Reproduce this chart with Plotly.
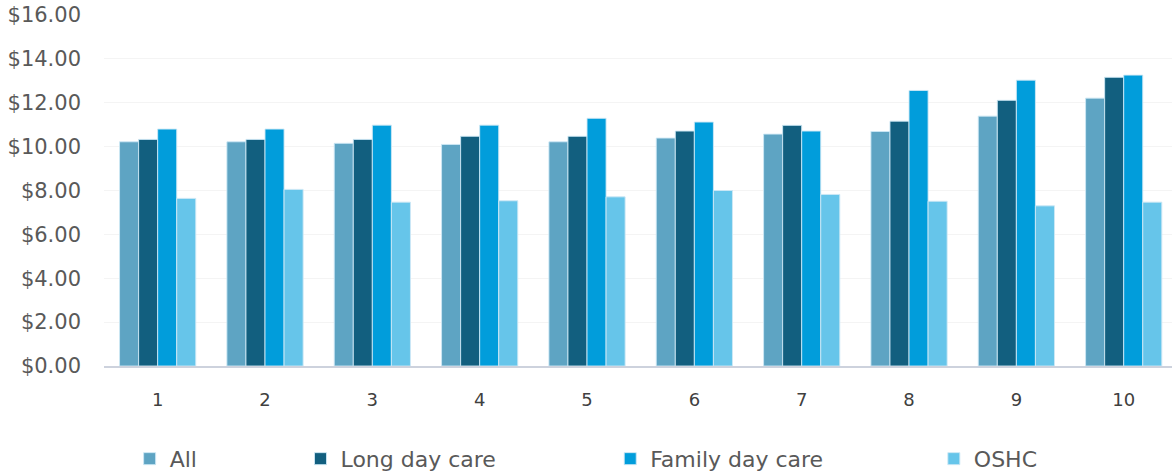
import plotly.graph_objects as go

# Hourly fee by decile, by care type
deciles = ["1", "2", "3", "4", "5", "6", "7", "8", "9", "10"]
all_care = [10.22, 10.22, 10.15, 10.10, 10.22, 10.39, 10.57, 10.69, 11.39, 12.21]
long_day_care = [10.33, 10.33, 10.33, 10.47, 10.47, 10.71, 10.97, 11.16, 12.11, 13.16]
family_day_care = [10.80, 10.80, 10.98, 10.98, 11.29, 11.12, 10.71, 12.56, 13.03, 13.26]
oshc = [7.64, 8.05, 7.47, 7.53, 7.71, 8.00, 7.82, 7.51, 7.30, 7.47]

series_names = ["All", "Long day care", "Family day care", "OSHC"]
series_values = [all_care, long_day_care, family_day_care, oshc]
series_colors = ["#5ea4c3", "#125f7f", "#019ddb", "#66c5ea"]
# horizontal position (paper fraction) of each legend entry
legend_x = [0.024, 0.184, 0.474, 0.777]

FONT = "'DejaVu Sans', sans-serif"
legend_ids = ["legend", "legend2", "legend3", "legend4"]

fig = go.Figure()
for name, values, color, lid in zip(series_names, series_values, series_colors, legend_ids):
    fig.add_trace(go.Bar(
        x=deciles, y=values, name=name, legend=lid,
        marker=dict(color=color, line=dict(color="rgba(205,232,245,0.9)", width=1)),
    ))

legend_layout = {}
for lid, lx in zip(legend_ids, legend_x):
    legend_layout[lid] = dict(
        orientation="h", x=lx, xanchor="left",
        yref="container", y=0.034, yanchor="middle",
        font=dict(size=22, color="#595959", family=FONT),
        bgcolor="rgba(0,0,0,0)", itemwidth=30,
    )

fig.update_layout(
    width=1172, height=475,
    margin=dict(l=104, r=0, t=15, b=109),
    paper_bgcolor="white", plot_bgcolor="white",
    barmode="group", bargap=0.29, bargroupgap=0.0,
    font=dict(family=FONT, color="#595959"),
    showlegend=True,
    **legend_layout,
    xaxis=dict(
        range=[-0.5, 9.45], showgrid=False,
        showline=True, linecolor="#cdd2dd", linewidth=2,
        ticks="", ticklabelstandoff=16,
        tickfont=dict(size=18, color="#404040", family=FONT),
    ),
    yaxis=dict(
        range=[0, 16], dtick=2, tickprefix="$", tickformat=".2f",
        showgrid=True, gridcolor="#f4f4f4", gridwidth=1,
        zeroline=False, showline=False, ticks="", ticklabelstandoff=22,
        tickfont=dict(size=21, color="#595959", family=FONT),
    ),
)

fig.write_html("out.html")
